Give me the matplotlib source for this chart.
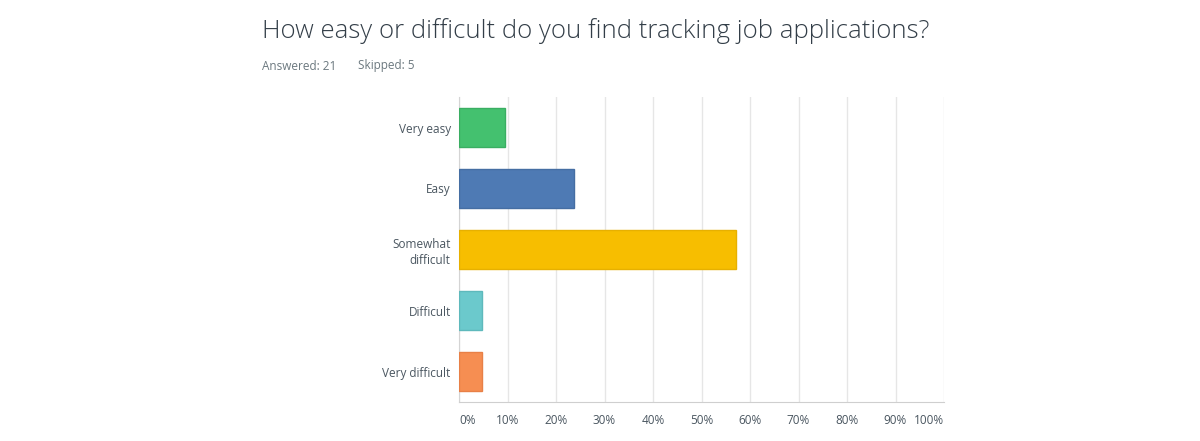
import matplotlib.pyplot as plt

categories = ["Very easy", "Easy", "Somewhat\ndifficult", "Difficult", "Very difficult"]
percentages = [9.52, 23.81, 57.14, 4.76, 4.76]
colors = ["#44c16f", "#4e7ab4", "#f7be00", "#6bc9cc", "#f68e52"]
edge_colors = ["#3aae62", "#456ea3", "#e7b000", "#5eb9bc", "#e88047"]
tick_values = [0, 10, 20, 30, 40, 50, 60, 70, 80, 90, 100]
tick_labels = [f"{v}%" for v in tick_values]

plt.rcParams['font.family'] = ['Open Sans', 'DejaVu Sans']

fig = plt.figure(figsize=(12, 4.41), dpi=100)
ax = fig.add_axes([459 / 1200, 1 - 402 / 441, (944 - 459) / 1200, (402 - 97) / 441])

y = list(range(len(categories)))
ax.barh(y, percentages, height=0.64, color=colors, edgecolor=edge_colors, linewidth=1, zorder=3)
ax.set_ylim(len(categories) - 0.5, -0.5)
ax.set_xlim(0, 100)

ax.set_yticks(y)
ax.set_yticklabels(categories, fontsize=8.5, color="#4a5660", linespacing=1.25)
ax.tick_params(axis="y", length=0, pad=6)

ax.set_xticks(tick_values)
ax.set_xticklabels(tick_labels, fontsize=8.5, color="#4a5660")
ax.tick_params(axis="x", length=0, pad=9)
xt = ax.get_xticklabels()
xt[0].set_ha("left")
xt[-1].set_ha("right")

ax.grid(axis="x", color="#e6e6e6", linewidth=1, zorder=0)
for s in ["top", "right"]:
    ax.spines[s].set_visible(False)
ax.spines["left"].set_color("#d4d4d4")
ax.spines["bottom"].set_color("#cfcfcf")

fig.text(262 / 1200, 1 - 31 / 441, "How easy or difficult do you find tracking job applications?",
         fontsize=18.5, fontweight="light", color="#333e48", va="center", ha="left")
fig.text(262 / 1200, 1 - 66 / 441, "Answered: 21", fontsize=8.5, color="#6b787f", va="center")
fig.text(358 / 1200, 1 - 66 / 441, "Skipped: 5", fontsize=8.5, color="#6b787f", va="center")

fig.savefig("out.png", dpi=100, facecolor="white")
